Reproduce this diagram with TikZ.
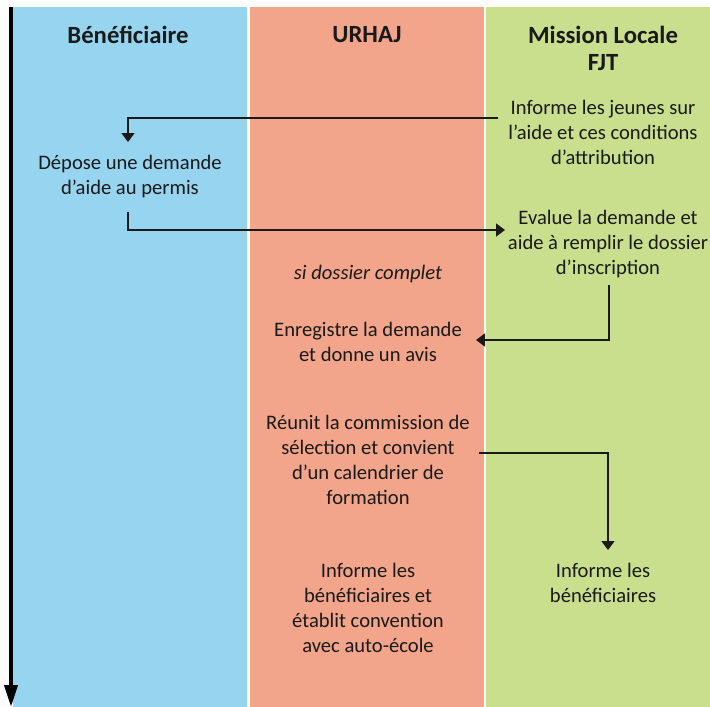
\documentclass[tikz,border=0pt]{standalone}
\usepackage{fontspec}
\setmainfont{Carlito}
\usetikzlibrary{arrows.meta}
\definecolor{cblue}{HTML}{97D4EF}
\definecolor{csalmon}{HTML}{F2A58A}
\definecolor{cgreen}{HTML}{C9DF8E}
\definecolor{ink}{HTML}{1A1A1A}
\begin{document}
\begin{tikzpicture}[x=1pt,y=-1pt,
  body/.style={align=center,font=\fontsize{20.6}{25}\selectfont,inner sep=0pt,text=ink},
  head/.style={align=center,font=\fontsize{24.7}{27}\selectfont\bfseries,inner sep=0pt,text=ink},
  arr/.style={draw=ink,line width=1.6pt,-{Triangle[length=9pt,width=13pt]}},
  timeline/.style={draw=black,line width=4pt,-{Triangle[length=22pt,width=13pt]}}
]
\useasboundingbox (0,0) rectangle (710,707);
\fill[white] (0,0) rectangle (710,707);
\fill[cblue] (13,7) rectangle (247,707);
\fill[csalmon] (250,7) rectangle (484,707);
\fill[cgreen] (486,7) rectangle (710,707);
\coordinate (t0) at (11,7);
\coordinate (t1) at (11,707);
\draw[timeline] (t0) -- (t1);

\node[head] (h1) at (128,35) {Bénéficiaire};
\node[head] (h2) at (367,35) {URHAJ};
\node[head] (h3) at (603,48.5) {Mission Locale\\FJT};

\node[body] (n1) at (603,132) {Informe les jeunes sur\\l’aide et ces conditions\\d’attribution};
\node[body] (n2) at (130,177) {Dépose une demande\\d’aide au permis};
\node[body] (n3) at (608,244) {Evalue la demande et\\aide à remplir le dossier\\d’inscription};
\node[body,font=\fontsize{20.6}{25}\selectfont\itshape] (n4) at (368,274) {si dossier complet};
\node[body] (n5) at (368,342) {Enregistre la demande\\et donne un avis};
\node[body] (n6) at (368,460) {Réunit la commission de\\sélection et convient\\d’un calendrier de\\formation};
\node[body] (n7) at (603,583) {Informe les\\bénéficiaires};
\node[body] (n8) at (368,608) {Informe les\\bénéficiaires et\\établit convention\\avec auto-école};

\coordinate (a1s) at (498,118);
\coordinate (a1e) at (128,142);
\draw[arr] (a1s) -| (a1e);
\coordinate (a2s) at (128,212);
\coordinate (a2e) at (505,230);
\draw[arr] (a2s) |- (a2e);
\coordinate (a3s) at (609,285);
\coordinate (a3e) at (476,340);
\draw[arr] (a3s) |- (a3e);
\coordinate (a4s) at (479,453);
\coordinate (a4e) at (608,550);
\draw[arr] (a4s) -| (a4e);
\end{tikzpicture}
\end{document}
